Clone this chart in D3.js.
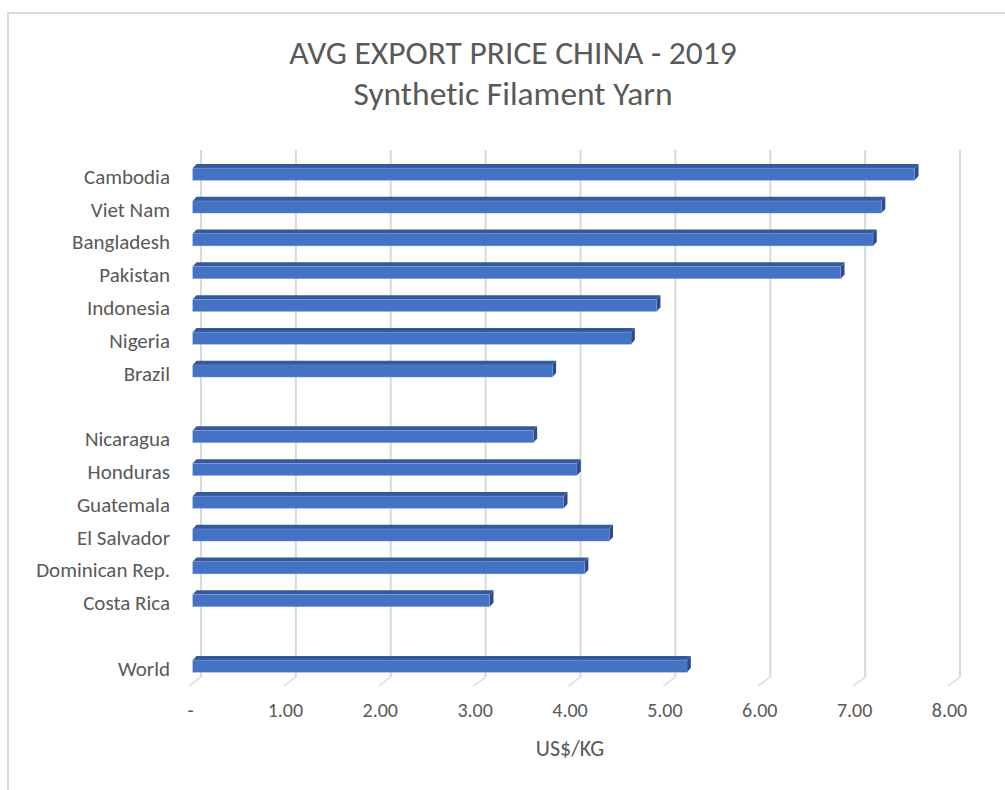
<!DOCTYPE html>
<html>
<head>
<meta charset="utf-8">
<script src="https://cdn.jsdelivr.net/npm/d3@7"></script>
<style>
  html, body { margin: 0; padding: 0; background: #ffffff; }
  svg { display: block; }
  text { font-family: Carlito, Lato, "Liberation Sans", sans-serif; fill: #595959;
         font-variant-ligatures: none; font-feature-settings: "liga" 0, "dlig" 0; }
</style>
</head>
<body>
<svg id="chart" width="1005" height="790"></svg>
<script>
// Average export price of synthetic filament yarn from China, 2019 (US$/kg)
const categories = ["Cambodia", "Viet Nam", "Bangladesh", "Pakistan", "Indonesia", "Nigeria", "Brazil", "",
                    "Nicaragua", "Honduras", "Guatemala", "El Salvador", "Dominican Rep.", "Costa Rica", "",
                    "World"];
const prices = [7.61, 7.26, 7.17, 6.83, 4.89, 4.62, 3.79, null,
                3.59, 4.05, 3.91, 4.39, 4.13, 3.13, null,
                5.21];
const xTicks = [0, 1, 2, 3, 4, 5, 6, 7, 8];
const titleLines = ["AVG EXPORT PRICE CHINA - 2019", "Synthetic Filament Yarn"];
const axisTitle = "US$/KG";

const svg = d3.select("#chart");

// chart frame
svg.append("rect")
  .attr("x", 8).attr("y", 13)
  .attr("width", 1100).attr("height", 900)
  .attr("fill", "#ffffff")
  .attr("stroke", "#d9d9d9").attr("stroke-width", 2);

// titles
svg.selectAll("text.title")
  .data(titleLines)
  .join("text")
  .attr("class", "title")
  .attr("x", 513)
  .attr("y", (d, i) => 64 + i * 41)
  .attr("text-anchor", "middle")
  .style("font-size", "33.5px")
  .style("font-weight", 300)
  .text(d => d);

// 3-D box geometry: back wall plus a shallow floor in front of it
const depth = { dx: -12, dy: 9 };           // back wall -> front edge of floor
const wallTop = 150, wallBottom = 677;

const xBack = d3.scaleLinear().domain([0, 8]).range([201, 960]);
const xFront = v => xBack(v) + depth.dx;

const y = d3.scaleBand()
  .domain(d3.range(categories.length))
  .range([160.6, 685.4])
  .padding(0);

// gridlines on the back wall
svg.append("g").selectAll("line")
  .data(xTicks)
  .join("line")
  .attr("x1", d => xBack(d)).attr("x2", d => xBack(d))
  .attr("y1", wallTop).attr("y2", wallBottom)
  .attr("stroke", "#d9d9d9").attr("stroke-width", 2);

// gridlines across the floor
svg.append("g").selectAll("line")
  .data(xTicks)
  .join("line")
  .attr("x1", d => xBack(d)).attr("y1", wallBottom)
  .attr("x2", d => xFront(d)).attr("y2", wallBottom + depth.dy)
  .attr("stroke", "#d9d9d9").attr("stroke-width", 1.5);

// bars sit part way into the depth of the box
const barFront = 0.31;                      // fraction of depth from the front edge
const barDepth = { dx: 3.8, dy: -4.2 };      // front face -> back face of a bar
const barH = y.bandwidth() * 0.37;
const x0 = xFront(0) - depth.dx * barFront;
const unit = xBack(1) - xBack(0);
const xBar = v => x0 + unit * v;

const rows = categories.map((c, i) => ({ i, c, v: prices[i] })).filter(d => d.v != null);

const bars = svg.append("g").selectAll("g")
  .data(rows)
  .join("g")
  .attr("transform", d => {
    const cy = y(d.i) + y.bandwidth() / 2 - depth.dy * barFront;
    return `translate(0,${cy - barH / 2})`;
  });

// top face
bars.append("path")
  .attr("d", d => {
    const a = xBar(0), b = xBar(d.v);
    return `M${a},0 L${a + barDepth.dx},${barDepth.dy} L${b + barDepth.dx},${barDepth.dy} L${b},0 Z`;
  })
  .attr("fill", "#34599c");

// end face
bars.append("path")
  .attr("d", d => {
    const b = xBar(d.v);
    return `M${b},0 L${b + barDepth.dx},${barDepth.dy} L${b + barDepth.dx},${barH + barDepth.dy} L${b},${barH} Z`;
  })
  .attr("fill", "#2c4c86");

// front face
bars.append("rect")
  .attr("x", xBar(0))
  .attr("y", 0)
  .attr("width", d => xBar(d.v) - xBar(0))
  .attr("height", barH)
  .attr("fill", "#4472c4")
  .attr("stroke", "#8fa9dc").attr("stroke-width", 0.6).attr("stroke-opacity", 0.6);

// category axis
const yAxis = d3.axisLeft(y)
  .tickSize(0)
  .tickPadding(0)
  .tickFormat(i => categories[i]);
const gy = svg.append("g")
  .attr("transform", "translate(170,0)")
  .call(yAxis);
gy.select(".domain").remove();
gy.selectAll("text")
  .style("font-size", "21px")
  .style("font-weight", 300)
  .attr("fill", "#595959")
  .style("font-family", "Carlito, Lato, 'Liberation Sans', sans-serif");

// value axis along the front edge of the floor
const xAxisScale = d3.scaleLinear().domain([0, 8]).range([xFront(0) + 1, xFront(8) + 1]);
const xAxis = d3.axisBottom(xAxisScale)
  .tickValues(xTicks)
  .tickSize(0)
  .tickPadding(0)
  .tickFormat(v => v === 0 ? "-" : d3.format(".2f")(v));
const gx = svg.append("g")
  .attr("transform", "translate(0,703)")
  .call(xAxis);
gx.select(".domain").remove();
gx.selectAll("text")
  .style("font-size", "20px")
  .style("font-weight", 300)
  .attr("fill", "#595959")
  .style("font-family", "Carlito, Lato, 'Liberation Sans', sans-serif");

// axis title
svg.append("text")
  .attr("x", 570)
  .attr("y", 756)
  .attr("text-anchor", "middle")
  .style("font-size", "22px")
  .style("font-weight", 300)
  .text(axisTitle);
</script>
</body>
</html>
